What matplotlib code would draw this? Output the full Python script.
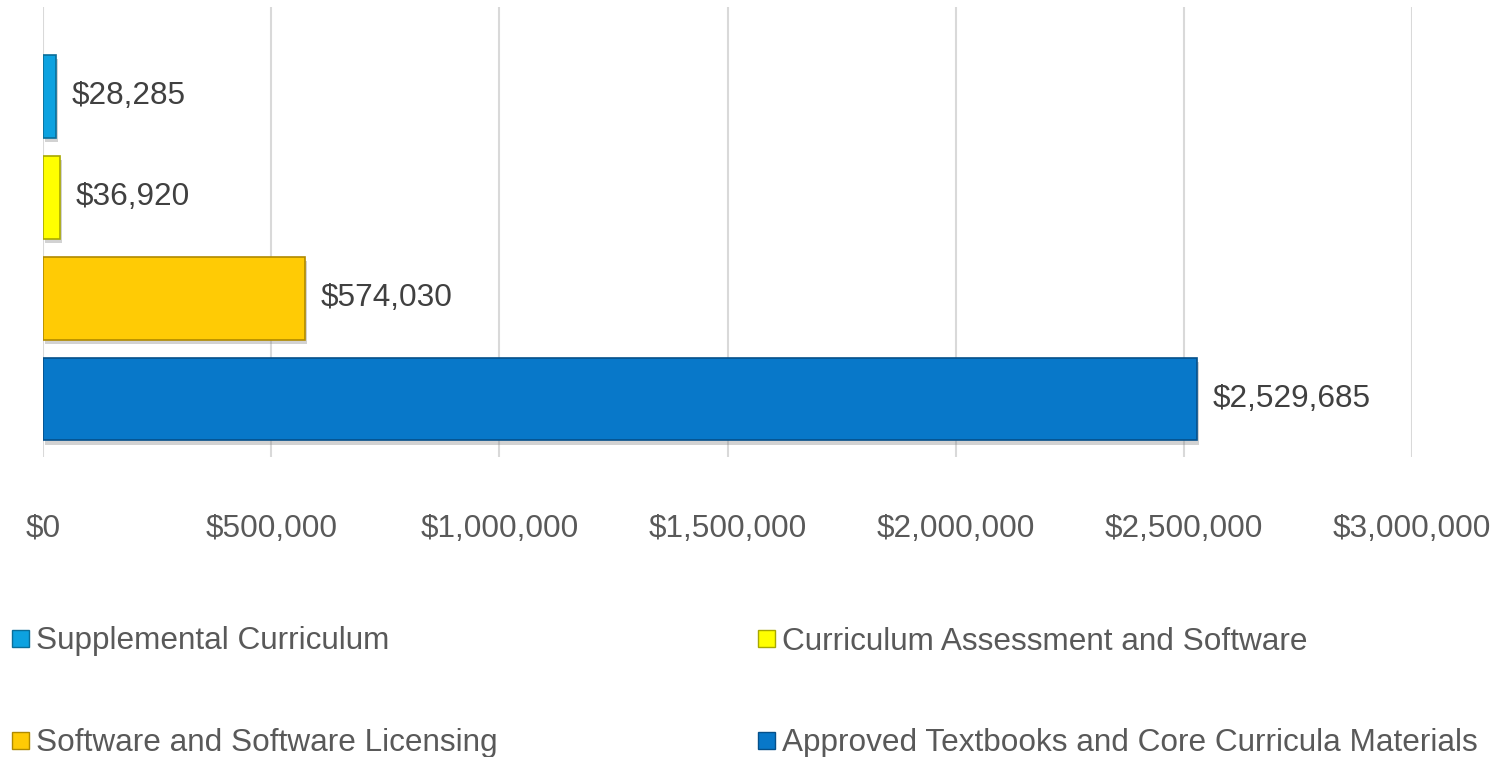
import matplotlib
matplotlib.use("Agg")
import matplotlib.pyplot as plt
import matplotlib.patheffects as pe
from matplotlib.patches import Rectangle

plt.rcParams['font.family'] = ['Liberation Sans', 'DejaVu Sans']

# series, in legend order
series = ['Supplemental Curriculum', 'Curriculum Assessment and Software',
          'Software and Software Licensing', 'Approved Textbooks and Core Curricula Materials']
values = [28285, 36920, 574030, 2529685]
colors = ['#0DA2E0', '#FFFF00', '#FFCB05', '#0878C9']
edges = ['#0A6E99', '#A8A800', '#B08A00', '#05508A']
ticks = [0, 500000, 1000000, 1500000, 2000000, 2500000, 3000000]

W, H = 1499, 757
fig = plt.figure(figsize=(W / 100, H / 100), dpi=100)
ax = fig.add_axes([43 / W, (H - 457) / H, (1412 - 43) / W, 450 / H])

ax.set_xlim(0, 3000000)
ax.set_ylim(-0.574, 3.886)

ax.set_xticks(ticks)
ax.set_xticklabels(['${:,}'.format(t) for t in ticks])
ax.tick_params(axis='x', length=0, pad=41, labelsize=22.7, labelcolor='#595959')
ax.set_yticks([])
for s in ax.spines.values():
    s.set_visible(False)
ax.grid(axis='x', color='#D9D9D9', linewidth=1.5)
ax.set_axisbelow(True)

shadow = [pe.SimplePatchShadow(offset=(1.5, -3), shadow_rgbFace='#808080', alpha=0.35), pe.Normal()]

n = len(series)
for i, (name, v) in enumerate(zip(series, values)):
    ypos = n - 1 - i
    bars = ax.barh(ypos, v, height=0.82, color=colors[i], edgecolor=edges[i], linewidth=1.2)
    for b in bars:
        b.set_path_effects(shadow)
    ax.annotate('${:,}'.format(v), xy=(v, ypos), xytext=(11, 0), textcoords='offset points',
                ha='left', va='center', fontsize=22.7, color='#404040')

# legend, two columns by two rows
leg_x = [12, 758]
leg_y = [638, 740]
for i, name in enumerate(series):
    x0 = leg_x[i % 2]
    yc = leg_y[i // 2]
    fig.add_artist(Rectangle((x0 / W, (H - yc - 8.5) / H), 17 / W, 17 / H, transform=fig.transFigure,
                             facecolor=colors[i], edgecolor=edges[i], linewidth=1))
    fig.text((x0 + 24) / W, (H - yc) / H, name, ha='left', va='center_baseline', fontsize=22.7, color='#595959')

fig.savefig('out.png', dpi=100)
